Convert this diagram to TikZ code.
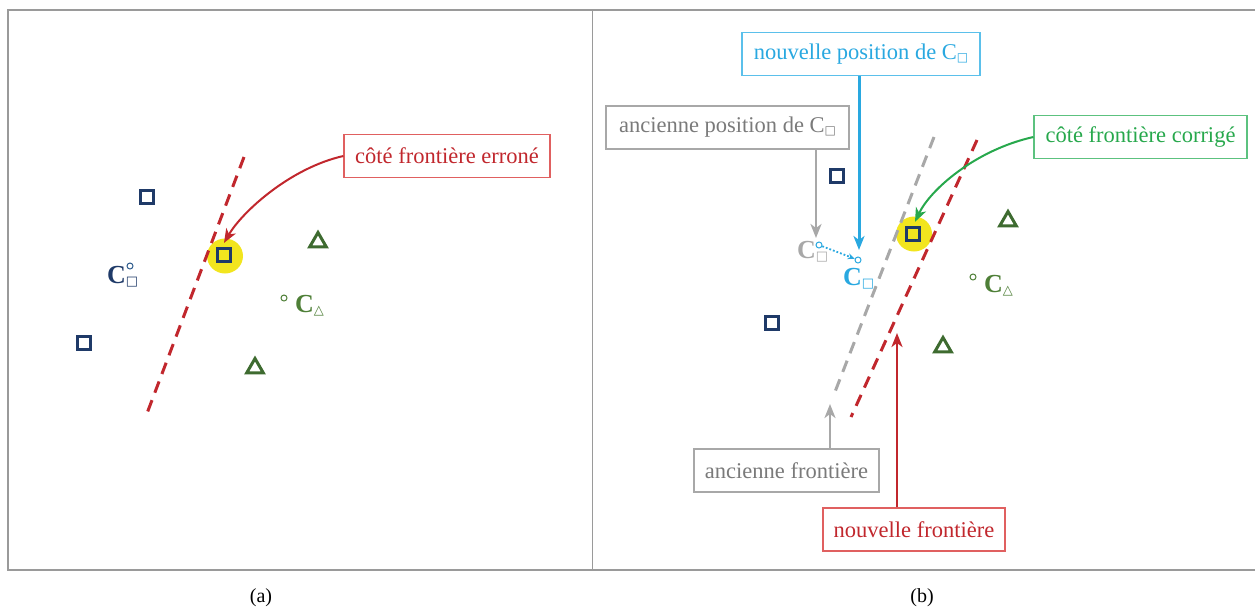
\documentclass[tikz,border=0pt]{standalone}
\usepackage{fontspec}
\setmainfont{Liberation Serif}
\newfontfamily\dvs{DejaVu Sans}
\usetikzlibrary{arrows.meta,shapes.geometric}
\definecolor{navy}{HTML}{1F3A68}
\definecolor{navyc}{HTML}{2C5A8C}
\definecolor{dgreen}{HTML}{3E6B30}
\definecolor{lgreen}{HTML}{4E7F37}
\definecolor{redl}{HTML}{C1272D}
\definecolor{redb}{HTML}{E06060}
\definecolor{bluel}{HTML}{29A8E0}
\definecolor{blueb}{HTML}{5BC0EB}
\definecolor{grayt}{HTML}{7A7A7A}
\definecolor{grayl}{HTML}{A8A8A8}
\definecolor{greent}{HTML}{27A84C}
\definecolor{greenb}{HTML}{5CC27F}
\definecolor{framec}{HTML}{9A9A9A}
\definecolor{yell}{HTML}{F2E51E}
\newcommand\sqsub[1]{\raisebox{-0.2ex}{\dvs\bfseries\fontsize{#1}{#1}\selectfont □}}
\newcommand\trisub[1]{\raisebox{-0.2ex}{\dvs\bfseries\fontsize{#1}{#1}\selectfont △}}
\begin{document}
\begin{tikzpicture}[x=1pt,y=-1pt,
  labelbox/.style={draw,line width=1.2pt,minimum height=43pt,inner sep=0pt,
    font=\fontsize{22.5}{22.5}\selectfont},
  sqpt/.style={draw=navy,rectangle,line width=3.2pt,minimum size=13pt,inner sep=0pt},
  tript/.style={draw=dgreen,regular polygon,regular polygon sides=3,line width=3pt,
    minimum size=19pt,inner sep=0pt},
  cpt/.style={draw,circle,line width=1pt,minimum size=6pt,inner sep=0pt},
  clabel/.style={anchor=base west,inner sep=0pt,font=\bfseries\fontsize{26}{26}\selectfont},
  frontier/.style={line width=3pt,dash pattern=on 12pt off 8pt},
  arr/.style={-{Stealth[length=14pt,width=11pt,inset=4pt]}},
  hl/.style={fill=yell,ellipse,minimum width=36pt,minimum height=35pt,inner sep=0pt}
]
\useasboundingbox (0,0) rectangle (1255,611);
% frame
\draw[framec,line width=1.5pt] (1255,10) -- (8,10) -- (8,570) -- (1255,570);
\draw[framec,line width=1pt] (592,10) -- (592,570);

% ---------- panel (a) ----------
\node[hl] (hlA) at (225,256) {};
\coordinate (rAtop) at (244,157);
\coordinate (rAbot) at (146,416);
\draw[redl,frontier] (rAtop) -- (rAbot);
\node[sqpt] (sqA1) at (147,197) {};
\node[sqpt] (sqA2) at (224,255) {};
\node[sqpt] (sqA3) at (84,343) {};
\node[tript] (trA1) at (318,242) {};
\node[tript] (trA2) at (255,368) {};
\node[cpt,draw=navyc] (cA) at (130,266) {};
\node[clabel,text=navy] (lcA) at (107,283) {C\sqsub{13}};
\node[cpt,draw=lgreen] (ctA) at (284,298) {};
\node[clabel,text=lgreen] (lctA) at (295,312) {C\trisub{13}};
\node[labelbox,draw=redb,text=redl,minimum width=206pt] (errbox) at (447,156) {côté frontière erroné};
\draw[redl,line width=2pt,arr] (errbox.west) .. controls (290,168) and (242,212) .. ([yshift=4pt]sqA2.north);

% ---------- panel (b) ----------
\node[hl] (hlB) at (914,234) {};
\coordinate (gtop) at (934,137);
\coordinate (gbot) at (833,397);
\draw[grayl,frontier] (gtop) -- (gbot);
\coordinate (rBtop) at (977,140);
\coordinate (rBbot) at (851,417);
\draw[redl,frontier] (rBtop) -- (rBbot);
\node[sqpt] (sqB1) at (837,176) {};
\node[sqpt] (sqB2) at (913,234) {};
\node[sqpt] (sqB3) at (772,323) {};
\node[tript] (trB1) at (1008,221) {};
\node[tript] (trB2) at (943,347) {};
\node[cpt,draw=bluel] (oldc) at (819,245) {};
\node[cpt,draw=bluel] (newc) at (858,260) {};
\node[clabel,text=grayl] (loldc) at (797,258) {C\sqsub{13}};
\node[clabel,text=bluel] (lnewc) at (843,285) {C\sqsub{13}};
\node[cpt,draw=lgreen] (ctB) at (973,277) {};
\node[clabel,text=lgreen] (lctB) at (984,292) {C\trisub{13}};
\draw[bluel,line width=1.8pt,dotted,-{Stealth[length=7pt,width=6pt]}] (oldc) -- (newc);

\node[labelbox,draw=blueb,text=bluel,minimum width=238pt] (nposbox) at (861,54) {nouvelle position de C\sqsub{12}};
\node[labelbox,draw=grayl,text=grayt,minimum width=243pt] (aposbox) at (727.5,127.5) {ancienne position de C\sqsub{12}};
\node[labelbox,draw=greenb,text=greent,minimum width=213pt] (corrbox) at (1140.5,137) {côté frontière corrigé};
\node[labelbox,draw=grayl,text=grayt,minimum width=185pt] (afbox) at (786.5,470.5) {ancienne frontière};
\node[labelbox,draw=redb,text=redl,minimum width=182pt] (nfbox) at (914,529.5) {nouvelle frontière};

\coordinate (tipold) at (816,238);
\coordinate (tipnew) at (859,250);
\coordinate (tipgf) at (830,404);
\coordinate (tiprf) at (897,333);
\draw[bluel,line width=3pt,arr] (nposbox.south -| tipnew) -- (tipnew);
\draw[grayl,line width=2.5pt,arr] (aposbox.south -| tipold) -- (tipold);
\draw[grayl,line width=2.5pt,arr] (afbox.north -| tipgf) -- (tipgf);
\draw[redl,line width=2.5pt,arr] (nfbox.north -| tiprf) -- (tiprf);
\draw[greent,line width=2pt,arr] (corrbox.west) .. controls (975,150) and (930,190) .. ([yshift=4pt,xshift=2pt]sqB2.north);

\node[font=\fontsize{20}{20}\selectfont] (la) at (261,598) {(a)};
\node[font=\fontsize{20}{20}\selectfont] (lb) at (922,598) {(b)};
\end{tikzpicture}
\end{document}
